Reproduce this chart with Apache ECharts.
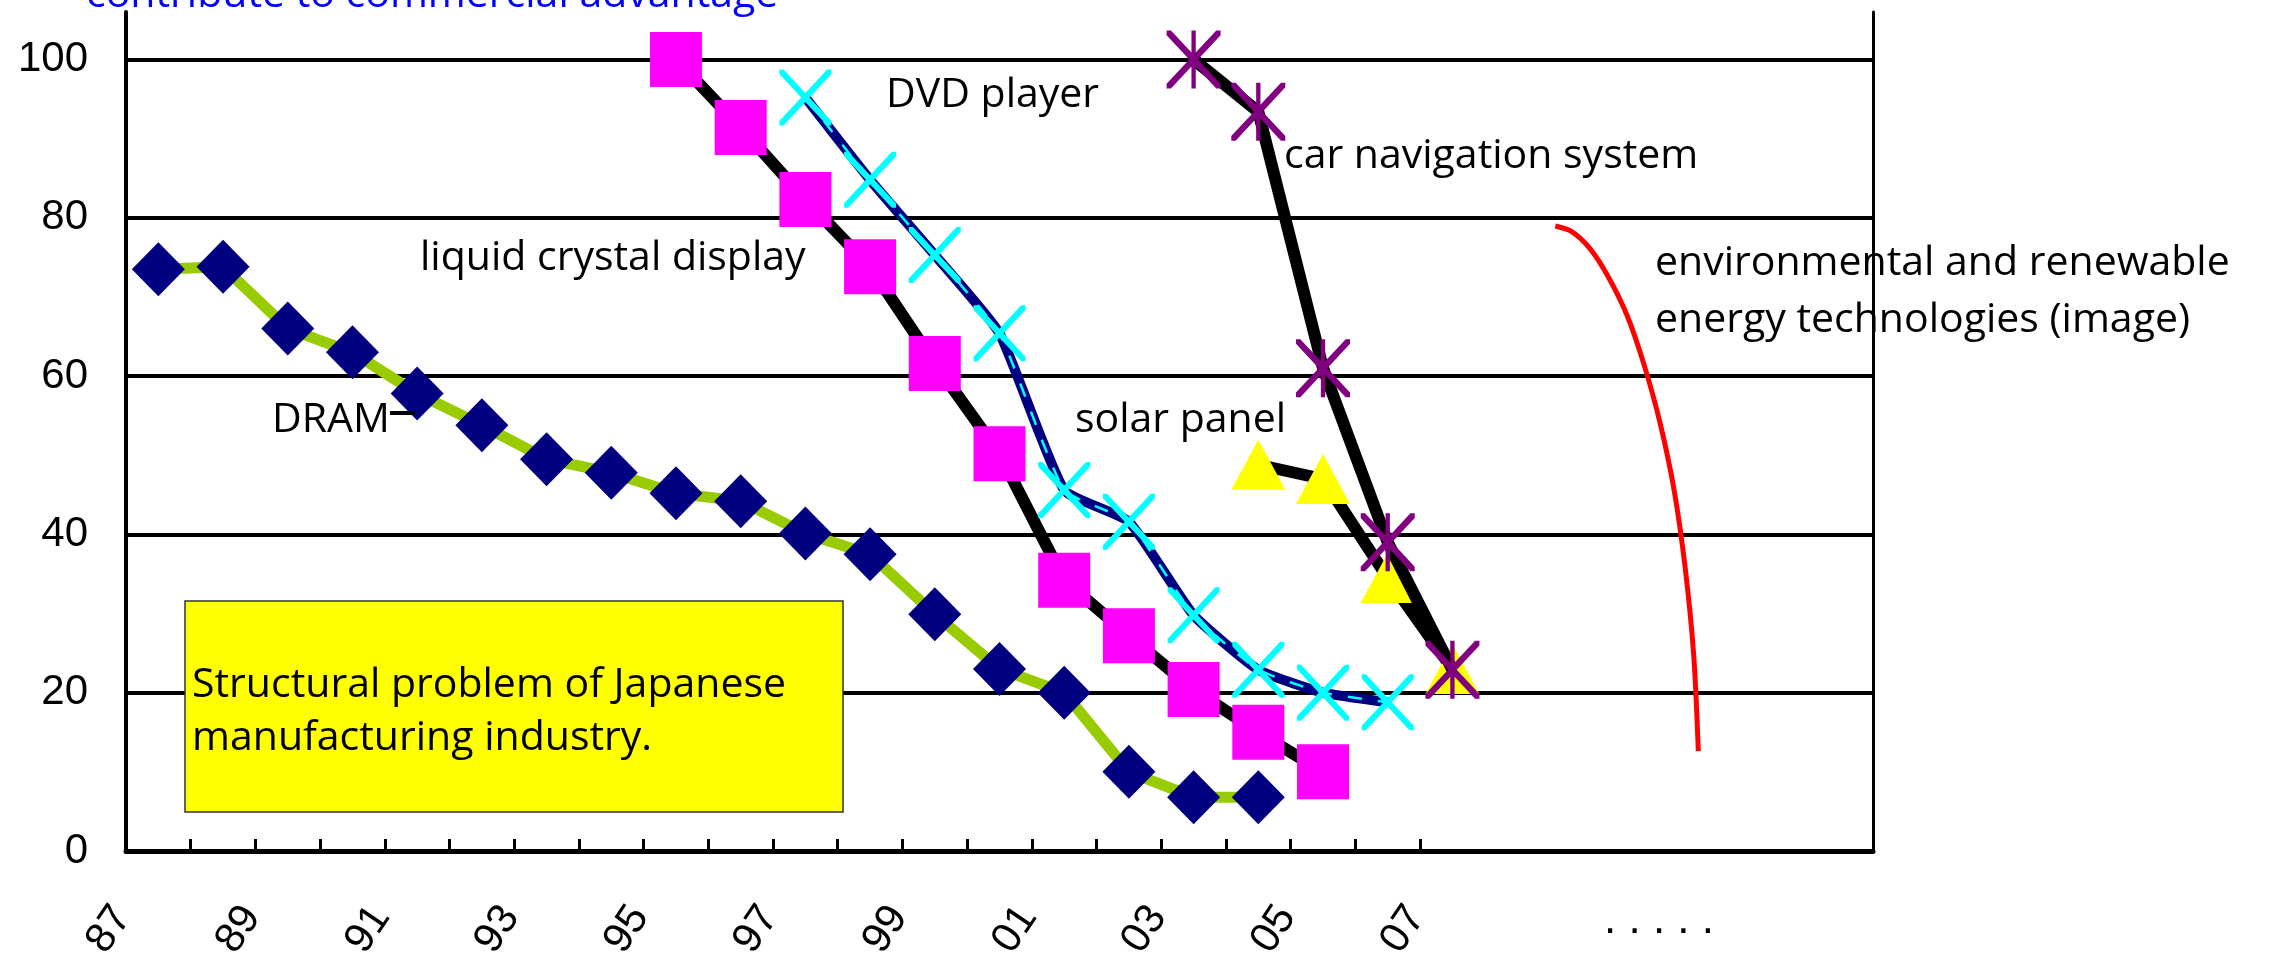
<!DOCTYPE html>
<html>
<head>
<meta charset="utf-8">
<script src="https://cdn.jsdelivr.net/npm/echarts@6/dist/echarts.min.js"></script>
<style>
  html, body { margin: 0; padding: 0; background: #ffffff; }
  #chart { width: 2271px; height: 963px; }
</style>
</head>
<body>
<div id="chart"></div>
<script>
// Japanese world market share (%) by product, 1987-2007
const years = ['87','88','89','90','91','92','93','94','95','96','97','98','99','00','01','02','03','04','05','06','07'];
// empty slots to the right of 2007 (the "....." future)
const laterSlots = ['08','09','10','11','12','13'];
const slots = years.concat(laterSlots);

const dram   = [73.5, 73.8, 66, 63, 57.8, 53.8, 49.5, 47.8, 45.2, 44.2, 40.1, 37.5, 29.9, 23, 20, 10, 6.8, 6.8];
const lcd    = [null, null, null, null, null, null, null, null, 100, 91.4, 82.3, 73.8, 61.6, 50.2, 34.2, 27.2, 20.4, 15, 10];
const dvd    = [null, null, null, null, null, null, null, null, null, null, 95.2, 84.8, 75.3, 65.4, 45.6, 41.6, 29.8, 22.9, 20, 18.8];
const carNav = [null, null, null, null, null, null, null, null, null, null, null, null, null, null, null, null, 100, 93.4, 61, 39, 22.9];
const solar  = [null, null, null, null, null, null, null, null, null, null, null, null, null, null, null, null, null, 48.8, 47, 34.5, 23];

// hand-drawn outlook curve for environmental / renewable energy technologies
// x in slot units from the left edge of the plot, y in share %
const sketchX = [22.09, 22.35, 22.63, 22.91, 23.20, 23.46, 23.71, 23.93, 24.10, 24.23, 24.30];
const sketchY = [78.96, 78.23, 76.08, 72.53, 67.66, 61.48, 54.05, 45.41, 35.59, 24.65, 12.63];

const yTicks = { min: 0, max: 106, step: 20 };

const symX = 'path://M0,0L8,0L50,42L92,0L100,0L100,8L58,50L100,92L100,100L92,100L50,58L8,100L0,100L0,92L42,50L0,8Z';
const symStar = symX + ' M46,0L54,0L54,100L46,100Z';

const chart = echarts.init(document.getElementById('chart'), null, { renderer: 'canvas' });

const textFont = '"Open Sans", "Noto Sans", sans-serif';
const axisFont = '"Liberation Sans", Arial, sans-serif';

function label(text, x, baseline, color) {
  return {
    type: 'text', z: 20,
    style: { text: text, x: x, y: baseline - 12, fill: color || '#000', fontSize: 41, fontFamily: textFont, align: 'left', verticalAlign: 'middle' }
  };
}

const option = {
  animation: false,
  backgroundColor: '#ffffff',
  grid: [
    { left: 126, right: 398, top: 12, bottom: 112, containLabel: false },
    { left: 90, right: 434, top: 12, bottom: 112, containLabel: false }
  ],
  xAxis: [
    {
      type: 'category', gridIndex: 0, data: slots, boundaryGap: true,
      axisLine: { show: true, lineStyle: { color: '#000', width: 5 } },
      axisTick: { show: true, inside: true, length: 12, lineStyle: { color: '#000', width: 3 },
                  interval: function (i) { return i >= 1 && i <= 20; } },
      axisLabel: { show: false },
      splitLine: { show: false }
    },
    {
      type: 'category', gridIndex: 1, data: slots, boundaryGap: true,
      axisLine: { show: false }, axisTick: { show: false }, splitLine: { show: false },
      axisLabel: {
        show: true, interval: 1, rotate: 56, margin: 62,
        fontFamily: axisFont, fontSize: 42, color: '#000',
        formatter: function (v, i) { return i < years.length ? v : ''; }
      }
    },
    { type: 'value', gridIndex: 0, min: 0, max: slots.length, show: false }
  ],
  yAxis: [
    {
      type: 'value', gridIndex: 0, min: yTicks.min, max: yTicks.max, interval: yTicks.step,
      axisLine: { show: true, lineStyle: { color: '#000', width: 4 } },
      axisTick: { show: false },
      axisLabel: { show: true, showMaxLabel: false, margin: 38, fontFamily: axisFont, fontSize: 42, color: '#000',
                   formatter: function (v) { return v % 20 === 0 ? String(v) : ''; } },
      splitLine: { show: true, showMaxLine: false, lineStyle: { color: '#000', width: 4 } }
    },
    {
      type: 'value', gridIndex: 0, position: 'right', min: yTicks.min, max: yTicks.max, interval: yTicks.step,
      axisLine: { show: true, lineStyle: { color: '#000', width: 3 } },
      axisTick: { show: false }, axisLabel: { show: false }, splitLine: { show: false }
    },
    { type: 'value', gridIndex: 1, min: 0, max: 106, show: false }
  ],
  series: [
    {
      name: 'DRAM', type: 'line', xAxisIndex: 0, yAxisIndex: 0, data: dram,
      showAllSymbol: true, symbol: 'diamond', symbolSize: [53, 54],
      lineStyle: { color: '#99CC00', width: 11 },
      itemStyle: { color: '#000080' }, z: 3
    },
    {
      name: 'liquid crystal display', type: 'line', xAxisIndex: 0, yAxisIndex: 0, data: lcd,
      showAllSymbol: true, symbol: 'rect', symbolSize: [52, 55],
      lineStyle: { color: '#000', width: 12 },
      itemStyle: { color: '#FF00FF' }, z: 4
    },
    {
      name: 'DVD player', type: 'line', xAxisIndex: 0, yAxisIndex: 0, data: dvd,
      showAllSymbol: true, symbol: symX, symbolSize: [52, 56], smooth: 0.15,
      lineStyle: { color: '#000080', width: 10 },
      itemStyle: { color: '#00FFFF' }, z: 5
    },
    {
      name: 'DVD player trace', type: 'line', xAxisIndex: 0, yAxisIndex: 0, data: dvd,
      symbol: 'none', smooth: 0.15,
      lineStyle: { color: '#00FFFF', width: 2.5, type: [14, 16] }, z: 5
    },
    {
      name: 'solar panel', type: 'line', xAxisIndex: 0, yAxisIndex: 0, data: solar,
      showAllSymbol: true, symbol: 'triangle', symbolSize: [54, 50],
      lineStyle: { color: '#000', width: 12 },
      itemStyle: { color: '#FFFF00' }, z: 6
    },
    {
      name: 'car navigation system', type: 'line', xAxisIndex: 0, yAxisIndex: 0, data: carNav,
      showAllSymbol: true, symbol: symStar, symbolSize: [54, 58],
      lineStyle: { color: '#000', width: 12 },
      itemStyle: { color: '#800080' }, z: 7
    },
    {
      name: 'environmental and renewable energy technologies', type: 'line', xAxisIndex: 2, yAxisIndex: 0,
      data: sketchX.map(function (x, i) { return [x, sketchY[i]]; }),
      symbol: 'none', smooth: 0.3,
      lineStyle: { color: '#FF0000', width: 5 }, z: 8
    }
  ],
  graphic: [
    // heading, mostly above the top edge
    label('contribute to commercial advantage', 86, 7, '#0000FF'),
    label('DVD player', 886, 107),
    label('car navigation system', 1284, 168),
    label('liquid crystal display', 420, 270),
    label('DRAM', 272, 432),
    { type: 'line', z: 20, shape: { x1: 390, y1: 413, x2: 415, y2: 413 }, style: { stroke: '#000', lineWidth: 4 } },
    label('solar panel', 1075, 432),
    {
      type: 'text', z: 20,
      style: { text: 'environmental and renewable\nenergy technologies (image)', x: 1655, y: 235,
               fill: '#000', fontSize: 41, fontFamily: textFont, lineHeight: 57, align: 'left', verticalAlign: 'top' }
    },
    {
      type: 'rect', z: 15,
      shape: { x: 185, y: 601, width: 658, height: 211 },
      style: { fill: '#FFFF00', stroke: '#333', lineWidth: 1.5 }
    },
    {
      type: 'text', z: 20,
      style: { text: 'Structural problem of Japanese\nmanufacturing industry.', x: 192, y: 659,
               fill: '#000', fontSize: 41, fontFamily: textFont, lineHeight: 53, align: 'left', verticalAlign: 'top' }
    },
    {
      type: 'text', z: 20,
      style: { text: '. . . . .', x: 1604, y: 921, fill: '#000', fontSize: 44, fontFamily: axisFont, align: 'left', verticalAlign: 'middle' }
    }
  ]
};

chart.setOption(option);
</script>
</body>
</html>
